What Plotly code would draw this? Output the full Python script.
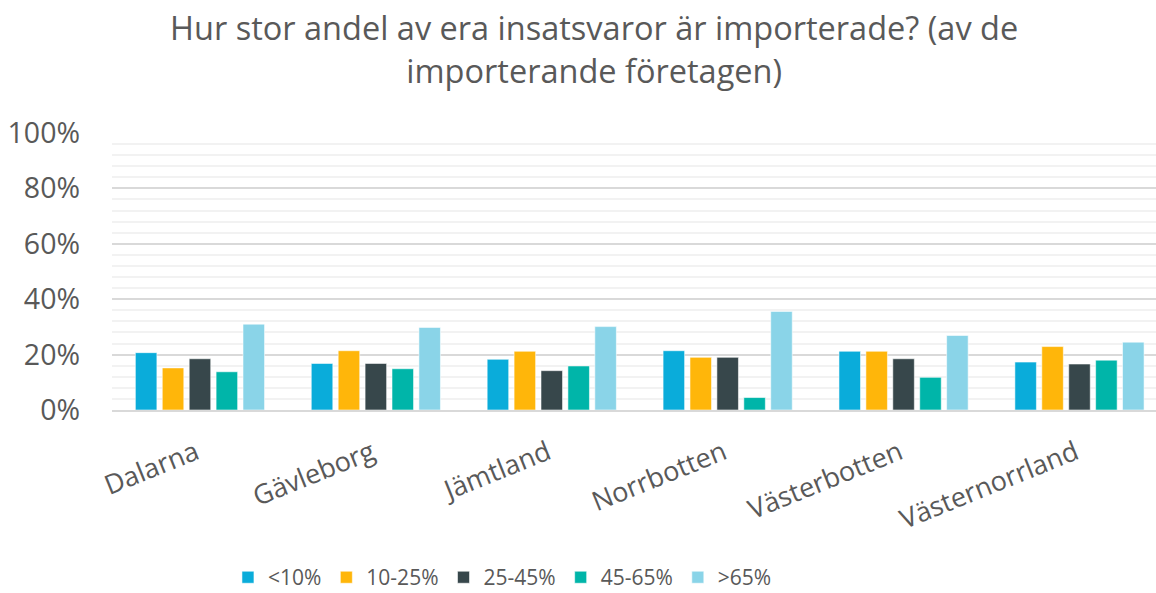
import plotly.graph_objects as go

regions = ["Dalarna", "Gävleborg", "Jämtland", "Norrbotten", "Västerbotten", "Västernorrland"]
series_names = ["<10%", "10-25%", "25-45%", "45-65%", ">65%"]
lt10 = [0.207, 0.168, 0.183, 0.214, 0.212, 0.173]
s10_25 = [0.152, 0.214, 0.212, 0.190, 0.212, 0.229]
s25_45 = [0.185, 0.168, 0.142, 0.190, 0.185, 0.166]
s45_65 = [0.138, 0.149, 0.159, 0.045, 0.118, 0.180]
gt65 = [0.310, 0.298, 0.301, 0.356, 0.269, 0.245]
colors = ["#0AACDA", "#FFB60A", "#37474B", "#00B5A9", "#8AD4E8"]

series_values = [lt10, s10_25, s25_45, s45_65, gt65]

FONT = "'Open Sans', sans-serif"
TXT = "#595959"
fig = go.Figure()
for name, vals, col in zip(series_names, series_values, colors):
    fig.add_trace(go.Bar(x=regions, y=vals, name=name,
                         marker=dict(color=col, line=dict(color="rgba(255,255,255,0.55)", width=1))))

fig.update_layout(
    width=1156, height=593,
    margin=dict(l=112, r=0, t=133, b=183, autoexpand=False),
    paper_bgcolor="white", plot_bgcolor="white",
    barmode="group", bargap=0.235, bargroupgap=0.2,
    font=dict(family=FONT, color=TXT, size=24),
    title=dict(text="Hur stor andel av era insatsvaror är importerade? (av de<br>importerande företagen)",
               x=0.514, xanchor="center", xref="container", yref="container",
               y=0.932, yanchor="top",
               font=dict(size=32.5, color=TXT, family=FONT)),
    legend=dict(orientation="h", x=0.374, xanchor="center", y=-0.605, yanchor="middle",
                font=dict(size=21, color=TXT, family=FONT),
                itemwidth=30, traceorder="normal"),
    showlegend=True,
)
fig.update_yaxes(range=[0, 1], tickformat=".0%", dtick=0.2, showgrid=True, gridcolor="#D9D9D9", gridwidth=1.5,
                 zeroline=False, showline=False, ticks="", ticklabelstandoff=31,
                 minor=dict(dtick=0.04, showgrid=True, gridcolor="#F2F2F2", gridwidth=1.5),
                 tickfont=dict(size=28.5, color=TXT))
fig.update_xaxes(range=[-0.5, 5.435], showline=True, linecolor="#D9D9D9", linewidth=1.5, tickangle=-22, ticks="",
                 ticklabelstandoff=15, ticklabelshift=-4,
                 tickfont=dict(size=27, color=TXT))

fig.write_html("out.html", config={"displayModeBar": False},
               post_script="document.body.style.margin='0';")
